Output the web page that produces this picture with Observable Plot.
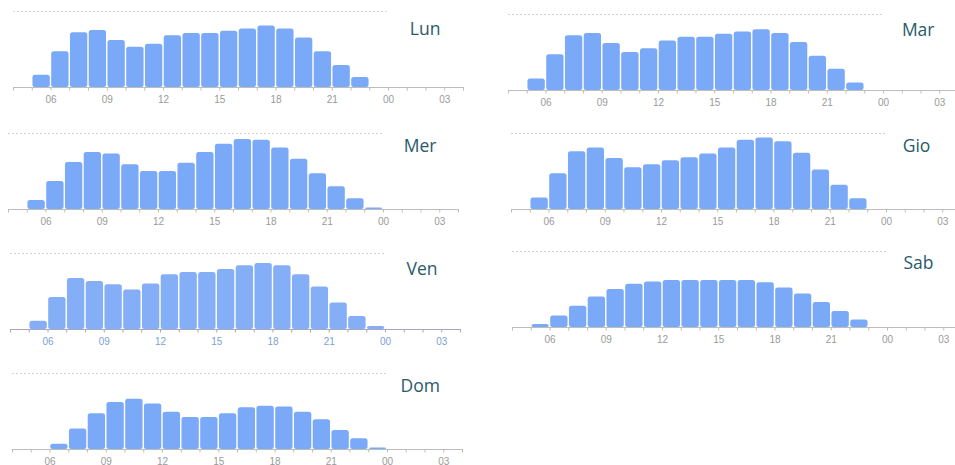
<!DOCTYPE html>
<html>
<head>
<meta charset="utf-8">
<script src="https://cdn.jsdelivr.net/npm/d3@7"></script>
<script src="https://cdn.jsdelivr.net/npm/@observablehq/plot@0.6"></script>
<style>
  html, body { margin: 0; padding: 0; background: #fff; }
  #wrap { position: relative; width: 955px; height: 465px; overflow: hidden; }
  .panel { position: absolute; }
</style>
</head>
<body>
<div id="wrap"></div>
<script>
// Hours (bar starts), x-axis ticks and labels
const hours = d3.range(5, 24);           // 05 .. 23
const tickHours = d3.range(4, 29);       // every hour from 04 to 04 next day
const labelHours = [6, 9, 12, 15, 18, 21, 24, 27];

// Day names
const days = ["Lun", "Mar", "Mer", "Gio", "Ven", "Sab", "Dom"];

// Relative busyness per hour (05..23), 100 = dashed reference line
const lun = [16, 47, 72, 75, 62, 53, 57, 68, 71, 71, 74, 77, 81, 77, 65, 47, 29, 13, 0];
const mar = [15, 47, 72, 75, 62, 50, 55, 65, 70, 70, 74, 77, 80, 75, 63, 45, 28, 10, 0];
const mer = [12, 37, 62, 75, 73, 59, 50, 50, 61, 75, 86, 92, 91, 81, 66, 47, 30, 14, 2];
const gio = [15, 47, 76, 81, 67, 55, 59, 64, 68, 73, 81, 91, 94, 89, 74, 52, 32, 14, 0];
const ven = [11, 42, 67, 63, 59, 52, 60, 72, 75, 75, 79, 84, 87, 84, 72, 56, 35, 17, 4];
const sab = [4, 15, 28, 40, 50, 57, 60, 62, 62, 62, 62, 62, 59, 52, 44, 33, 21, 10, 0];
const dom = [0, 7, 27, 47, 62, 66, 60, 49, 42, 42, 47, 55, 57, 56, 49, 39, 25, 14, 2];
const series = [lun, mar, mer, gio, ven, sab, dom];

// Panel placement (collage layout), not data
const layout = [
  {left: 3.2,   top: 0.7,   lx: 25.95, ly: 77},
  {left: 498.2, top: 4,     lx: 25.85, ly: 79},
  {left: -2.5,  top: 123.3, lx: 25.95, ly: 83},
  {left: 501.2, top: 122.7, lx: 25.6,  ly: 83},
  {left: -0.2,  top: 242.5, lx: 25.95, ly: 79},
  {left: 501.5, top: 241,   lx: 25.65, ly: 84},
  {left: 1.5,   top: 363,   lx: 25.75, ly: 83}
];

const pad = n => String(n % 24).padStart(2, "0");
const wrap = document.getElementById("wrap");

days.forEach((day, i) => {
  const vals = series[i];
  const rows = hours.map((h, j) => ({h, v: vals[j]})).filter(d => d.v > 0);
  const isVen = day === "Ven";
  const barFill = isVen ? "#84aef6" : "#7aa9f7";
  const axisCol = isVen ? "#aaa5c4" : "#bdbdbd";
  const labCol = isVen ? "#7d9fd2" : "#9a9a9a";
  const L = layout[i];

  const chart = Plot.plot({
    width: 470,
    height: 106,
    marginLeft: 10,
    marginRight: 10,
    marginTop: 10,
    marginBottom: 20,
    x: {domain: [4, 28], label: null},
    y: {domain: [0, 100], axis: null},
    style: {fontFamily: "'Liberation Sans', Arial, sans-serif", background: "transparent"},
    marks: [
      Plot.ruleY([100], {x1: 4, x2: 24, stroke: "#d2d2d2", strokeDasharray: "2,2", strokeWidth: 1}),
      Plot.rectY(rows, {x1: "h", x2: d => d.h + 1, y: "v", fill: barFill, insetLeft: 0.7, insetRight: 0.7, rx: 2.5}),
      Plot.ruleY([0], {x1: 4, x2: 28, stroke: axisCol, strokeWidth: 1.2}),
      Plot.axisX({
        ticks: tickHours,
        tickSize: 3.5,
        tickPadding: 5,
        label: null,
        stroke: axisCol,
        fill: labCol,
        fontSize: 10,
        tickFormat: d => labelHours.includes(d) ? pad(d) : ""
      }),
      Plot.text([day], {
        x: L.lx, y: L.ly, text: d => d,
        fill: "#285a6b", fontSize: 17.5, textAnchor: "middle",
        fontFamily: "'Open Sans', sans-serif"
      })
    ]
  });
  chart.classList.add("panel");
  chart.style.left = L.left + "px";
  chart.style.top = L.top + "px";
  wrap.appendChild(chart);
});
</script>
</body>
</html>
